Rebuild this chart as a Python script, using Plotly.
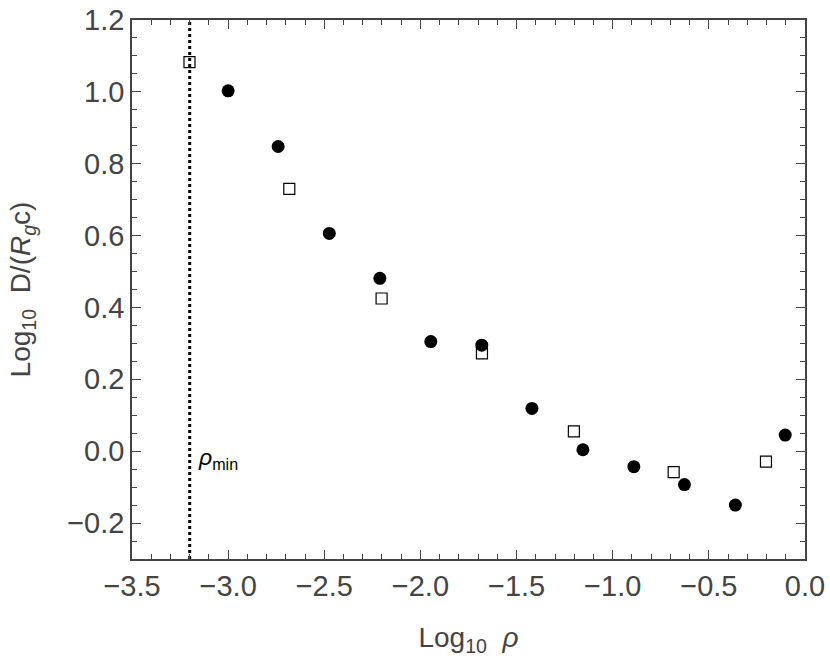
import plotly.graph_objects as go

# Filled circles
circ_x = [-3.00, -2.74, -2.474, -2.211, -1.946, -1.681, -1.420, -1.155, -0.890, -0.627, -0.362, -0.103]
circ_y = [1.003, 0.848, 0.606, 0.481, 0.305, 0.295, 0.119, 0.004, -0.043, -0.093, -0.150, 0.045]

# Open squares
sq_x = [-3.201, -2.682, -2.202, -1.680, -1.202, -0.683, -0.203]
sq_y = [1.083, 0.730, 0.425, 0.272, 0.055, -0.058, -0.029]

rho_min = -3.2
x_range = [-3.5, 0.0]
y_range = [-0.3, 1.2]

x_ticks = [-3.5, -3.0, -2.5, -2.0, -1.5, -1.0, -0.5, 0.0]
x_ticklabels = ["−3.5", "−3.0", "−2.5", "−2.0", "−1.5", "−1.0", "−0.5", "0.0"]
y_ticks = [-0.2, 0.0, 0.2, 0.4, 0.6, 0.8, 1.0, 1.2]
y_ticklabels = ["−0.2", "0.0", "0.2", "0.4", "0.6", "0.8", "1.0", "1.2"]

FONT = "Liberation Sans, Arial, Helvetica, sans-serif"
GRAY = "#444444"

fig = go.Figure()
fig.add_trace(go.Scatter(x=[rho_min, rho_min], y=y_range, mode="lines",
                         line=dict(color="black", width=3, dash="dot"),
                         showlegend=False, hoverinfo="skip"))
fig.add_trace(go.Scatter(x=sq_x, y=sq_y, mode="markers",
                         marker=dict(symbol="square-open", size=11,
                                     color="black", line=dict(width=1.2, color="black")),
                         showlegend=False))
fig.add_trace(go.Scatter(x=circ_x, y=circ_y, mode="markers",
                         marker=dict(symbol="circle", size=13, color="black"),
                         showlegend=False))

fig.add_annotation(x=rho_min, y=-0.02, xref="x", yref="y",
                   text="<i>ρ</i><sub>min</sub>", showarrow=False,
                   xanchor="left", yanchor="middle", xshift=6,
                   font=dict(family=FONT, size=23, color="black"))

axis_common = dict(
    showline=True, linecolor=GRAY, linewidth=1.5, mirror="allticks",
    ticks="inside", ticklen=9, tickwidth=1.2, tickcolor=GRAY,
    showgrid=False, zeroline=False, tickmode="array",
    ticklabeloverflow="allow", automargin=False,
    tickfont=dict(family=FONT, size=29, color=GRAY),
)

fig.update_xaxes(range=x_range, tickvals=x_ticks, ticktext=x_ticklabels,
                 minor=dict(ticks="inside", ticklen=5, tickcolor=GRAY, dtick=0.1, tick0=0, tickwidth=1),
                 title=dict(text="Log<sub>10</sub>  <i>ρ</i>", standoff=27,
                            font=dict(family=FONT, size=28, color=GRAY)),
                 **axis_common)
fig.update_yaxes(range=y_range, tickvals=y_ticks, ticktext=y_ticklabels,
                 minor=dict(ticks="inside", ticklen=5, tickcolor=GRAY, dtick=0.05, tick0=0, tickwidth=1),
                 title=dict(text="Log<sub>10</sub>  D/(<i>R<sub>g</sub></i>c)", standoff=28,
                            font=dict(family=FONT, size=28, color=GRAY)),
                 **axis_common)

fig.update_layout(width=830, height=659,
                  margin=dict(l=132, r=25, t=20, b=100, autoexpand=False),
                  plot_bgcolor="white", paper_bgcolor="white",
                  font=dict(family=FONT, color=GRAY))

fig.write_html("out.html", config={"displayModeBar": False},
               post_script="document.body.style.margin='0';")
